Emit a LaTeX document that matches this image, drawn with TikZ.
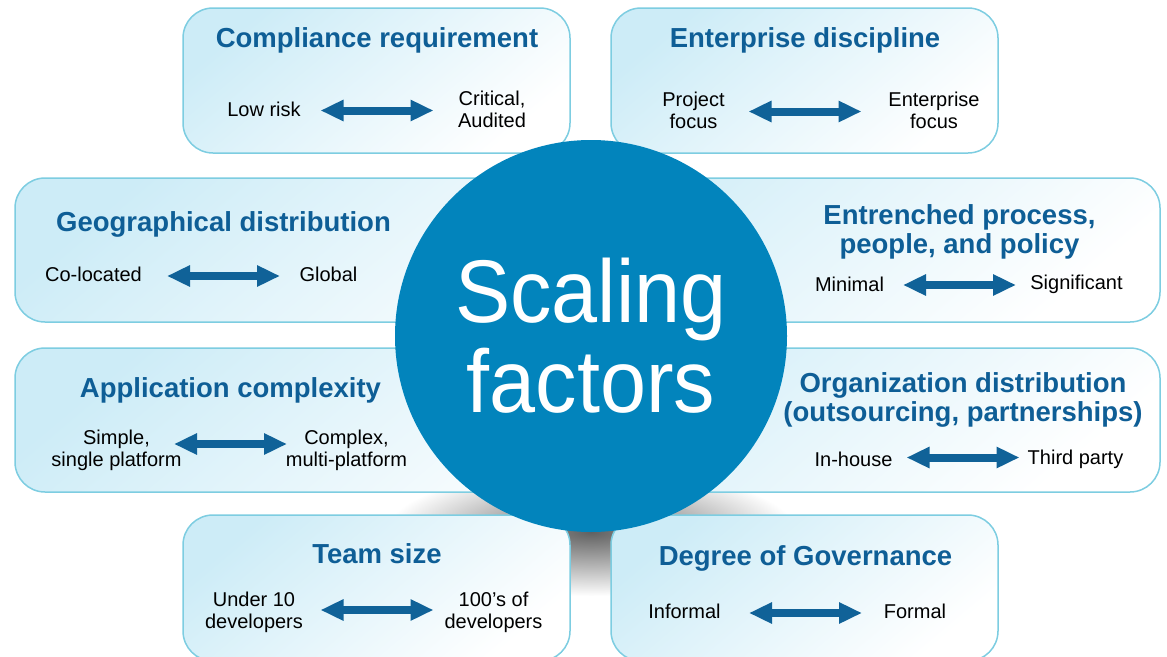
\documentclass[tikz,border=0pt]{standalone}
\usepackage{fontspec}
\setmainfont{Liberation Sans}
\newfontfamily\bigsans[FakeStretch=0.93]{Liberation Sans}
\usetikzlibrary{arrows.meta}

\definecolor{circleblue}{RGB}{2,132,188}
\definecolor{titleblue}{RGB}{14,94,150}
\definecolor{arrowblue}{RGB}{16,98,152}
\definecolor{boxedge}{RGB}{125,205,225}
\definecolor{boxfill}{RGB}{205,236,247}

\begin{document}
\begin{tikzpicture}[
    x=1pt, y=-1pt,
    factor box/.style={draw=boxedge, line width=1.5pt, rounded corners=30pt,
      top color=boxfill, bottom color=white, shading angle=40, inner sep=0pt},
    factor title/.style={text=titleblue, font=\fontsize{27.5}{29}\selectfont\bfseries, align=center},
    factor end/.style={font=\fontsize{20}{22}\selectfont, align=center, inner sep=0pt},
    two way/.style={draw=arrowblue, line width=8pt,
      {Triangle[length=23pt,width=20pt]}-{Triangle[length=23pt,width=20pt]}},
]
\useasboundingbox (0,0) rectangle (1167,656);
% shadow under the big circle
\shade[inner color=black!62, outer color=white] (591,532) ellipse [x radius=205, y radius=64];
% the eight boxes
\foreach \nm/\xa/\ya/\xb/\yb in {comp/183/8/570/153, ent/611/8/998/153,
    geo/15/178/700/322, entr/480/178/1160/322, app/15/348/700/492,
    org/480/348/1160/492, team/183/515/570/661, gov/611/515/998/661}
  \node[factor box, minimum width={(\xb-\xa)*1pt}, minimum height={(\yb-\ya)*1pt}]
    (\nm) at ({(\xa+\xb)/2},{(\ya+\yb)/2}) {};
% title, both ends and the arrow in each box
\foreach \nm/\tx/\ty/\ay/\lx/\hx/\ly/\ttl/\lo/\hi in {
    comp/377/40/110.5/264/492/109/{Compliance requirement}/{Low risk}/{Critical,\\Audited},
    ent/805/40/111.5/693.5/934/110.5/{Enterprise discipline}/{Project\\focus}/{Enterprise\\focus},
    geo/223.5/224/276/93.5/328.5/274/{Geographical distribution}/{Co-located}/{Global},
    entr/959.5/232/285/849.5/1076.5/284/{Entrenched process,\\people, and policy}/{Minimal}/{Significant},
    app/230.5/390/444/116.5/346.5/450/{Application complexity}/{Simple,\\single platform}/{Complex,\\multi-platform},
    org/963/400/457.5/853.5/1075.5/459/{Organization distribution\\(outsourcing, partnerships)}/{In-house}/{Third party},
    team/377/553.5/610/254/493.5/612.5/{Team size}/{Under 10\\developers}/{100’s of\\developers},
    gov/805.5/558/613/684.5/915/611/{Degree of Governance}/{Informal}/{Formal}}
{
  \node[factor title] (\nm-title) at (\tx,\ty) {\ttl};
  \coordinate (\nm-a) at (\tx-56.5,\ay);
  \coordinate (\nm-b) at (\tx+56.5,\ay);
  \node[factor end] (\nm-lo) at (\lx,\ly) {\lo};
  \node[factor end] (\nm-hi) at (\hx,\ly) {\hi};
  \draw[two way] (\nm-a) -- (\nm-b);
}
\node[circle, fill=circleblue, minimum size=392pt, inner sep=0pt, text=white, align=center,
  font=\bigsans\fontsize{89}{90}\selectfont] (scaling) at (591,336) {Scaling\\factors};
\end{tikzpicture}
\end{document}
